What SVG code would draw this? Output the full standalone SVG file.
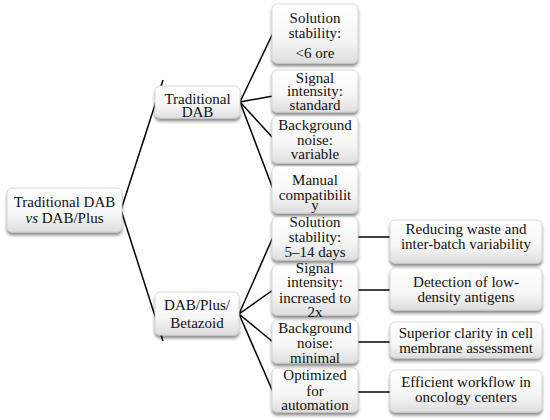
<svg xmlns="http://www.w3.org/2000/svg" width="550" height="420" viewBox="0 0 550 420">
<defs>
<linearGradient id="g" x1="0" y1="0" x2="0" y2="1">
<stop offset="0" stop-color="#ffffff"/>
<stop offset="0.6" stop-color="#f6f6f6"/>
<stop offset="1" stop-color="#dedede"/>
</linearGradient>
<filter id="sh" x="-10%" y="-10%" width="120%" height="130%">
<feGaussianBlur in="SourceAlpha" stdDeviation="1.6"/>
<feOffset dx="0" dy="2.5" result="b"/>
<feComponentTransfer><feFuncA type="linear" slope="0.45"/></feComponentTransfer>
<feMerge><feMergeNode/><feMergeNode in="SourceGraphic"/></feMerge>
</filter>
</defs>
<style>
.box{fill:url(#g);stroke:#cfcfcf;stroke-width:0.8;filter:url(#sh)}
.t{font-family:"Liberation Serif","Times New Roman",serif;font-size:15px;fill:#111;text-anchor:middle}
.c{stroke:#000;stroke-width:1.5;fill:none}
</style>
<g id="connectors">
<line class="c" x1="121" y1="210" x2="163" y2="80"/>
<line class="c" x1="121" y1="210" x2="163" y2="341"/>
<line class="c" x1="240" y1="102" x2="273" y2="33"/>
<line class="c" x1="240" y1="102" x2="273" y2="96"/>
<line class="c" x1="240" y1="102" x2="273" y2="138"/>
<line class="c" x1="240" y1="102" x2="273" y2="189"/>
<line class="c" x1="239" y1="314" x2="273" y2="237"/>
<line class="c" x1="239" y1="314" x2="273" y2="290"/>
<line class="c" x1="239" y1="314" x2="273" y2="342"/>
<line class="c" x1="239" y1="314" x2="273" y2="392"/>
<line class="c" x1="358" y1="237" x2="390" y2="237"/>
<line class="c" x1="358" y1="290" x2="390" y2="290"/>
<line class="c" x1="358" y1="342" x2="390" y2="342"/>
<line class="c" x1="358" y1="392" x2="390" y2="392"/>
</g>
<g id="root">
<rect class="box" x="7" y="188" width="115" height="44" rx="5"/>
<text class="t" x="64.5" y="207">Traditional DAB</text>
<text class="t" x="64.5" y="223"><tspan font-style="italic">vs</tspan> DAB/Plus</text>
</g>
<g id="trad">
<rect class="box" x="155" y="86" width="85" height="32" rx="5"/>
<text class="t" x="197.5" y="104">Traditional</text>
<text class="t" x="197.5" y="117">DAB</text>
</g>
<g id="plus">
<rect class="box" x="155" y="292" width="84" height="43" rx="5"/>
<text class="t" x="197" y="310">DAB/Plus/</text>
<text class="t" x="197" y="328">Betazoid</text>
</g>
<g id="t1">
<rect class="box" x="272" y="4" width="86" height="59" rx="5"/>
<text class="t" x="315" y="23">Solution</text>
<text class="t" x="315" y="38">stability:</text>
<text class="t" x="315" y="58">&lt;6 ore</text>
</g>
<g id="t2">
<rect class="box" x="272" y="70" width="86" height="42" rx="5"/>
<text class="t" x="315" y="83">Signal</text>
<text class="t" x="315" y="96">intensity:</text>
<text class="t" x="315" y="110">standard</text>
</g>
<g id="t3">
<rect class="box" x="272" y="116" width="86" height="47" rx="5"/>
<text class="t" x="315" y="130">Background</text>
<text class="t" x="315" y="145">noise:</text>
<text class="t" x="315" y="159">variable</text>
</g>
<g id="t4">
<rect class="box" x="272" y="166" width="86" height="47" rx="5"/>
<text class="t" x="315" y="185">Manual</text>
<text class="t" x="315" y="200">compatibilit</text>
<text class="t" x="315" y="210">y</text>
</g>
<g id="p1">
<rect class="box" x="272" y="217" width="86" height="43" rx="5"/>
<text class="t" x="315" y="227">Solution</text>
<text class="t" x="315" y="242">stability:</text>
<text class="t" x="315" y="257">5–14 days</text>
</g>
<g id="p2">
<rect class="box" x="272" y="265" width="86" height="50" rx="5"/>
<text class="t" x="315" y="273">Signal</text>
<text class="t" x="315" y="287">intensity:</text>
<text class="t" x="315" y="303">increased to</text>
<text class="t" x="315" y="317">2x</text>
</g>
<g id="p3">
<rect class="box" x="272" y="320" width="86" height="43" rx="5"/>
<text class="t" x="315" y="333">Background</text>
<text class="t" x="315" y="348">noise:</text>
<text class="t" x="315" y="363">minimal</text>
</g>
<g id="p4">
<rect class="box" x="272" y="368" width="86" height="44" rx="5"/>
<text class="t" x="315" y="380">Optimized</text>
<text class="t" x="315" y="396">for</text>
<text class="t" x="315" y="410">automation</text>
</g>
<g id="r1">
<rect class="box" x="390" y="220" width="152" height="43" rx="5"/>
<text class="t" x="466" y="234">Reducing waste and</text>
<text class="t" x="466" y="249">inter-batch variability</text>
</g>
<g id="r2">
<rect class="box" x="390" y="268" width="152" height="42" rx="5"/>
<text class="t" x="466" y="287">Detection of low-</text>
<text class="t" x="466" y="302">density antigens</text>
</g>
<g id="r3">
<rect class="box" x="390" y="322" width="152" height="36" rx="5"/>
<text class="t" x="466" y="338">Superior clarity in cell</text>
<text class="t" x="466" y="353">membrane assessment</text>
</g>
<g id="r4">
<rect class="box" x="390" y="370" width="152" height="42" rx="5"/>
<text class="t" x="466" y="387">Efficient workflow in</text>
<text class="t" x="466" y="402">oncology centers</text>
</g>
</svg>
